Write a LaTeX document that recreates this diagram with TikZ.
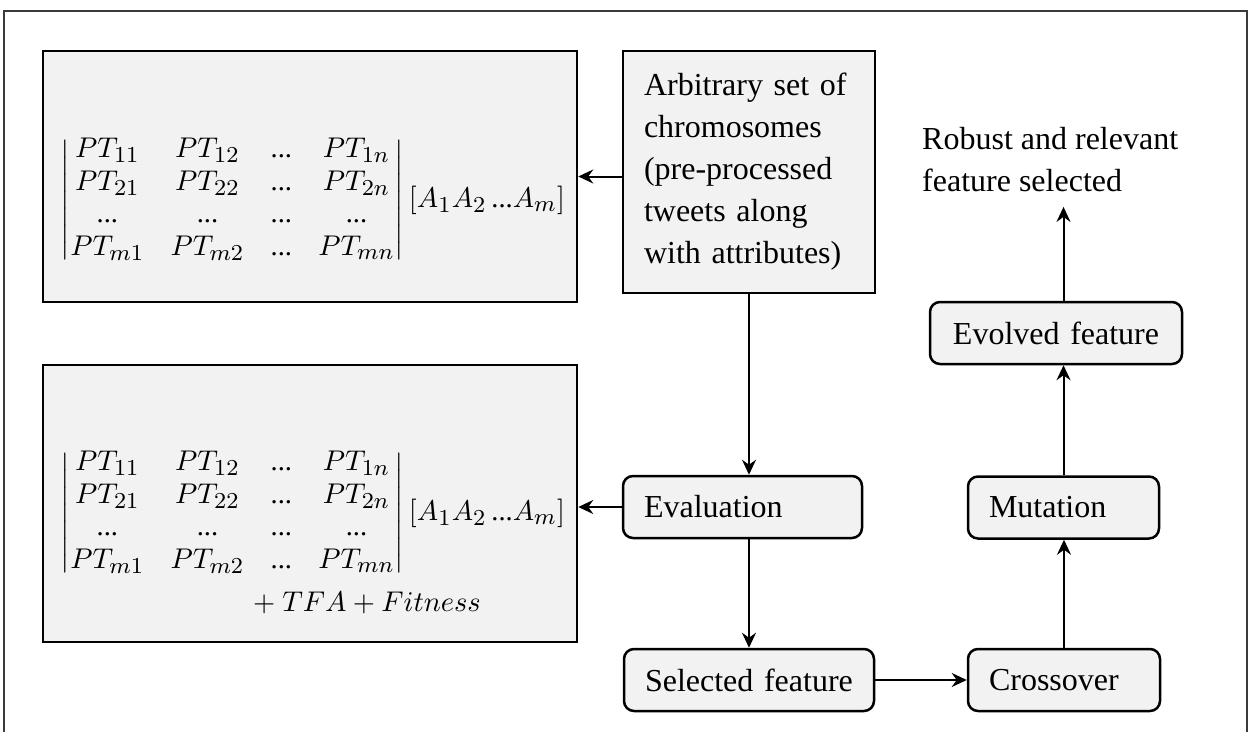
\documentclass[tikz,border=0pt]{standalone}
\usepackage{amsmath}
\usepackage{fontspec}
\setmainfont{Liberation Serif}
\usetikzlibrary{arrows.meta}
\definecolor{boxgray}{HTML}{F2F2F2}
\definecolor{framegray}{HTML}{3A3A3A}
\DeclareMathSizes{10}{10}{8}{6}
\renewcommand{\arraystretch}{0.95}
\setlength{\arraycolsep}{4.6pt}
\newcommand{\mydots}{\text{...}}

\begin{document}
\begin{tikzpicture}[x=1pt,y=-1pt,
  font=\fontsize{32}{42}\selectfont,
  arr/.style={line width=2pt,-{Stealth[length=15pt,width=14pt,inset=5pt]}},
  matbox/.style={draw,line width=2.5pt,fill=boxgray,minimum width=534pt,inner sep=0pt},
  flowbox/.style={draw,line width=2.5pt,fill=boxgray,rounded corners=10pt,minimum height=62pt,
    inner xsep=21pt,inner ysep=0pt,align=left},
  mathtxt/.style={font=\normalsize,scale=2.85,inner sep=0pt}]
\useasboundingbox (0,0) rectangle (1250,731);
%\draw[help lines] (0,0) grid[step=50] (1250,731);
\draw[framegray,line width=1.5pt] (4,11) rectangle (1247,760);

% the two population boxes
\node[matbox,minimum height=251pt] (mat1) at (310,176.5) {};
\node[matbox,minimum height=277pt] (mat2) at (310,503.5) {};
\node[mathtxt] (pop1) at (313,200) {$\begin{vmatrix}
  PT_{11} & PT_{12} & \mydots & PT_{1n}\\
  PT_{21} & PT_{22} & \mydots & PT_{2n}\\
  \mydots & \mydots & \mydots & \mydots\\
  PT_{m1} & PT_{m2} & \mydots & PT_{mn}
  \end{vmatrix}[A_1A_2\,\mydots A_m]$};
\node[mathtxt] (pop2) at (313,513) {$\begin{vmatrix}
  PT_{11} & PT_{12} & \mydots & PT_{1n}\\
  PT_{21} & PT_{22} & \mydots & PT_{2n}\\
  \mydots & \mydots & \mydots & \mydots\\
  PT_{m1} & PT_{m2} & \mydots & PT_{mn}
  \end{vmatrix}[A_1A_2\,\mydots A_m]$};
\node[mathtxt] (fit) at (367,603) {$+\ TFA+Fitness$};

% GA steps
\node[flowbox,rounded corners=0pt,minimum height=242pt,text width=210pt] (chrom) at (749,172)
  {Arbitrary set of\\chromosomes\\(pre-processed\\tweets along\\with attributes)};
\node[flowbox,text width=197pt] (eval) at (742.5,507) {Evaluation};
\node[flowbox,text width=208pt] (sel) at (749,680) {Selected feature};
\node[flowbox,text width=150pt] (cross) at (1064,680) {Crossover};
\node[flowbox,text width=149pt] (mut) at (1063.5,507.5) {Mutation};
\node[flowbox,text width=210pt,align=center] (evol) at (1056,333) {Evolved feature};
\node[anchor=north west,inner sep=0pt,align=left] (robust) at (922,127)
  {Robust and relevant\\feature selected};

\draw[arr] (chrom.west |- mat1.east) -- (mat1.east);
\draw[arr] (chrom.south) -- (chrom.south |- eval.north);
\draw[arr] (eval.west) -- (eval.west -| mat2.east);
\draw[arr] (eval.south -| sel.north) -- (sel.north);
\draw[arr] (sel.east) -- (cross.west);
\draw[arr] (cross.north) -- (cross.north |- mut.south);
\draw[arr] (mut.north) -- (mut.north |- evol.south);
\draw[arr] (evol.north -| mut.north) -- ([yshift=-15pt]robust.south -| mut.north);
\end{tikzpicture}
\end{document}
